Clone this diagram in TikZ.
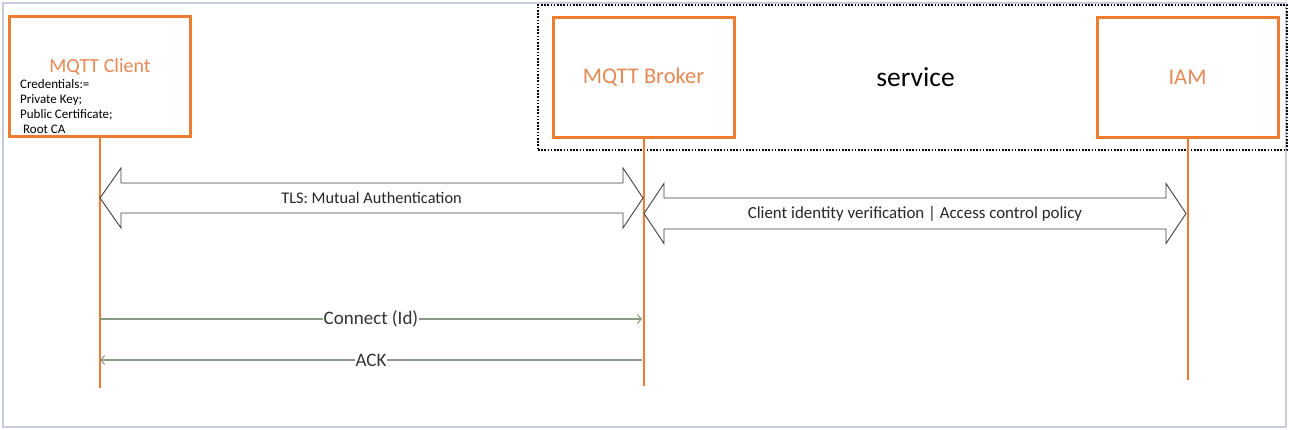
\documentclass[tikz,border=0pt]{standalone}
\usepackage{fontspec}
\setmainfont{Carlito}
\usetikzlibrary{arrows.meta,calc}
\definecolor{boxorange}{HTML}{ED7D31}
\definecolor{txtorange}{HTML}{E58A55}
\definecolor{msggreen}{HTML}{8A9A82}
\definecolor{framecol}{HTML}{C8CCE0}
\definecolor{arrowline}{HTML}{404040}
\tikzset{
  actor/.style={draw=boxorange, line width=3pt, fill=white, minimum width=181pt, minimum height=120pt, inner sep=0pt, text=txtorange, font=\fontsize{22.5}{26}\selectfont},
  lifeline/.style={draw=boxorange, line width=2pt},
  msg/.style={draw=msggreen, line width=1.4pt, -{Straight Barb[length=4pt,width=9pt,line width=1pt]}},
  msglbl/.style={fill=white, inner sep=1pt, font=\fontsize{19}{22}\selectfont, text=black!80},
  bigarrow/.style={draw=arrowline, line width=0.9pt, fill=white, line join=miter},
  arrowlbl/.style={inner sep=0pt, text=black!85},
  servicebox/.style={draw=black, line width=2.2pt, dash pattern=on 1.6pt off 1.6pt, minimum width=749pt, minimum height=145pt, inner sep=0pt, font=\fontsize{27.5}{32}\selectfont}
}
\begin{document}
\begin{tikzpicture}[x=1pt,y=-1pt]
\useasboundingbox[fill=white] (0,0) rectangle (1289,430);
\draw[framecol, line width=1.5pt] (3,3) rectangle (1286,427);
% service boundary
\node[servicebox] (service) at (912.5,77.5) {\hspace{6pt}service};
% actors
\node[actor] (client) at (100,77) {};
\node[text=txtorange, font=\fontsize{20}{24}\selectfont] (clientlbl) at (100,67) {MQTT Client};
\node[anchor=north west, align=left, inner sep=0pt, font=\fontsize{13}{15}\selectfont] (cred) at (20,79.5) {Credentials:=\\Private Key;\\Public Certificate;\\\hspace{3pt}Root CA};
\node[actor] (broker) at (643.5,77.5) {MQTT Broker};
\node[actor] (iam) at (1187.5,77.5) {IAM};
% lifeline ends
\coordinate (clientend) at (100,388);
\coordinate (brokerend) at (643.5,386);
\coordinate (iamend) at (1187.5,380);
\draw[lifeline] (client.south) -- (clientend);
\draw[lifeline] (broker.south) -- (brokerend);
\draw[lifeline] (iam.south) -- (iamend);
% TLS double arrow
\coordinate (tlsL) at (100,198);
\coordinate (tlsR) at (643,198);
\draw[bigarrow] (tlsL) -- ++(21,-30) -- ++(0,15) -- ($(tlsR)+(-20,-15)$) -- ++(0,-15) -- (tlsR) -- ++(-20,30) -- ++(0,-15) -- ($(tlsL)+(21,15)$) -- ++(0,15) -- cycle;
\node[arrowlbl, anchor=base, font=\fontsize{16.3}{19}\selectfont] (tlslbl) at ($(tlsL)!0.5!(tlsR)+(0,6)$) {TLS: Mutual Authentication};
% IAM double arrow
\coordinate (iamL) at (644,213.5);
\coordinate (iamR) at (1186,213.5);
\draw[bigarrow] (iamL) -- ++(20,-30) -- ++(0,14.5) -- ($(iamR)+(-20,-15.5)$) -- ++(0,-14.5) -- (iamR) -- ++(-20,30) -- ++(0,-14.5) -- ($(iamL)+(20,15.5)$) -- ++(0,14.5) -- cycle;
\node[arrowlbl, anchor=base, font=\fontsize{16.9}{20}\selectfont] (iamlbl) at ($(iamL)!0.5!(iamR)+(0,5.5)$) {Client identity verification | Access control policy};
% messages
\coordinate (connA) at (100,319);
\coordinate (connB) at (642,319);
\coordinate (ackA) at (642,360);
\coordinate (ackB) at (100,360);
\draw[msg] (connA) -- node[msglbl] (connlbl) {Connect (Id)} (connB);
\draw[msg] (ackA) -- node[msglbl] (acklbl) {ACK} (ackB);
\end{tikzpicture}
\end{document}
